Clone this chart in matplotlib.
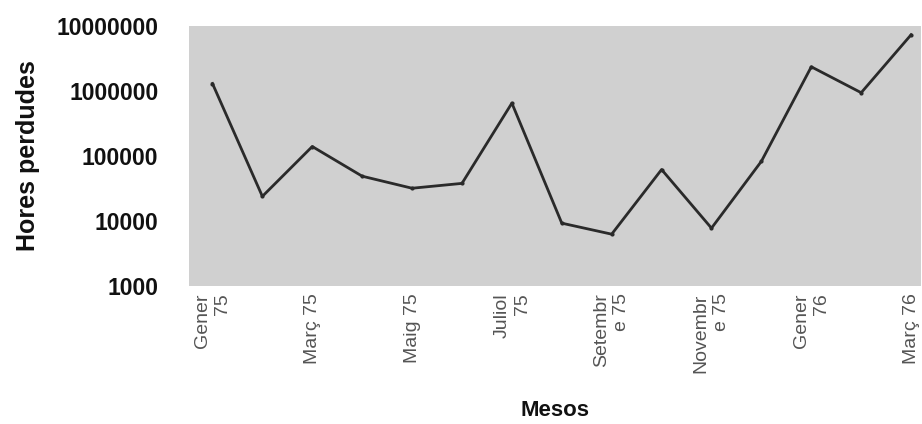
import matplotlib
matplotlib.use("Agg")
import matplotlib.pyplot as plt
from matplotlib.ticker import FixedLocator, NullLocator

months = ["Gener 75", "Febrer 75", "Març 75", "Abril 75", "Maig 75", "Juny 75",
          "Juliol 75", "Agost 75", "Setembre 75", "Octubre 75", "Novembre 75",
          "Desembre 75", "Gener 76", "Febrer 76", "Març 76"]
hours = [1300000, 24000, 140000, 49000, 32000, 38000, 650000, 9300, 6300,
         62000, 7800, 83000, 2350000, 940000, 7300000]
tick_labels = ["Gener\n75", "Març 75", "Maig 75", "Juliol\n75", "Setembr\ne 75",
               "Novembr\ne 75", "Gener\n76", "Març 76"]
y_ticks = [1000, 10000, 100000, 1000000, 10000000]
y_tick_labels = ["1000", "10000", "100000", "1000000", "10000000"]

plt.rcParams['font.family'] = ['Liberation Sans', 'DejaVu Sans']

fig = plt.figure(figsize=(9.22, 4.24), dpi=100)
ax = fig.add_axes([0.205, 0.325, 0.794, 0.614])
ax.set_facecolor('#d0d0d0')

x = list(range(len(months)))
ax.plot(x, hours, color='#2a2a2a', linewidth=2.0, marker='.', markersize=4)

ax.set_yscale('log')
ax.set_ylim(1000, 10000000)
ax.set_xlim(-0.47, 14.2)
ax.yaxis.set_major_locator(FixedLocator(y_ticks))
ax.yaxis.set_minor_locator(NullLocator())
ax.set_yticklabels(y_tick_labels, fontsize=16.5, fontweight='bold', color='#111111')

ax.set_xticks(x[::2])
ax.set_xticklabels(tick_labels, rotation=90, fontsize=14, color='#555555',
                   ha='center', va='top', multialignment='right', linespacing=1.25)
ax.tick_params(axis='both', length=0)
ax.tick_params(axis='y', pad=22)
ax.tick_params(axis='x', pad=5)

for s in ax.spines.values():
    s.set_visible(False)

ax.set_ylabel("Hores perdudes", fontsize=18, fontweight='bold', color='#111111', labelpad=12)
ax.set_xlabel("Mesos", fontsize=16, fontweight='bold', color='#111111', labelpad=20)

fig.savefig("out.png", dpi=100)
